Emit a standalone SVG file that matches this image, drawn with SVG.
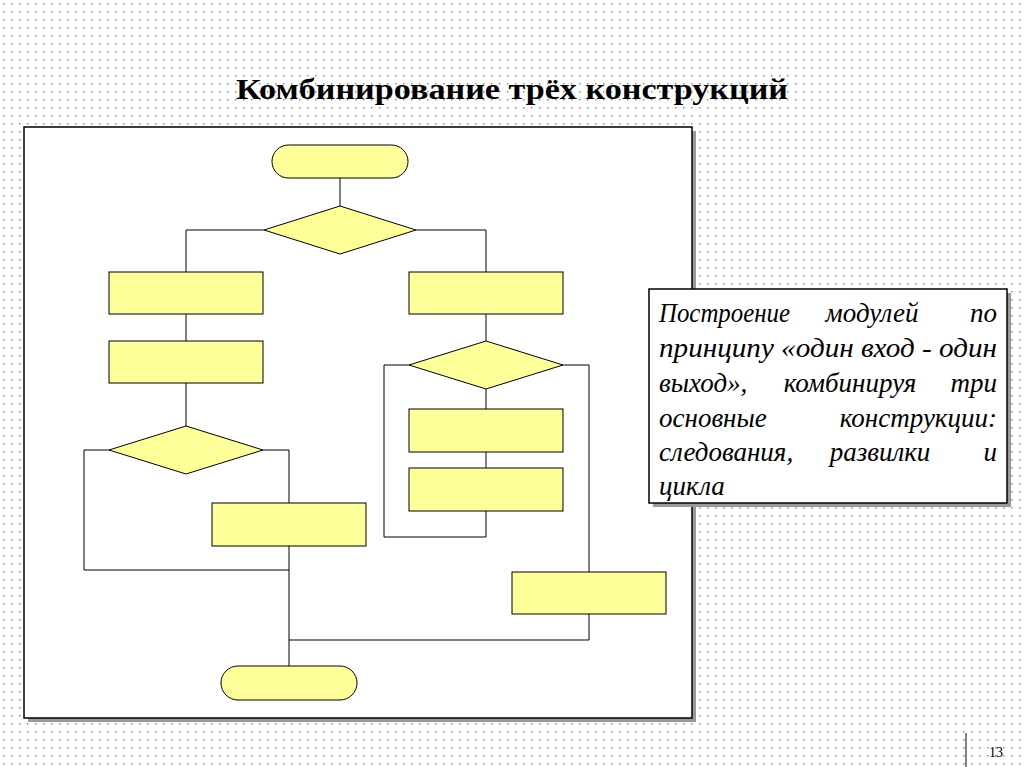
<svg xmlns="http://www.w3.org/2000/svg" width="1024" height="767" viewBox="0 0 1024 767">
<defs>
<pattern id="dots" width="8" height="8" patternUnits="userSpaceOnUse"><rect x="3" y="3" width="1.5" height="1.5" fill="#8a8ab8"/></pattern>
<style>
.n{fill:#ffff99;stroke:#000;stroke-width:1}
.c{fill:none;stroke:#000;stroke-width:1}
.t{font-family:"Liberation Serif","Times New Roman","DejaVu Serif",serif;font-style:italic;font-size:27px;fill:#000}
.h{font-family:"Liberation Serif","Times New Roman","DejaVu Serif",serif;font-weight:bold;font-size:30px;fill:#000}
</style>
</defs>
<rect width="1024" height="767" fill="#fff"/>
<rect width="1024" height="767" fill="url(#dots)"/>
<text class="h" x="236" y="99" textLength="552" lengthAdjust="spacingAndGlyphs">Комбинирование трёх конструкций</text>
<rect x="28" y="131" width="668" height="591" fill="#999"/>
<rect x="24" y="127" width="668" height="591" fill="#fff" stroke="#000" stroke-width="1.5"/>
<g id="connectors">
<path class="c" d="M340 178V206M264 230H186V272M416 230H486V272M186 314V341M186 383V426M109 450H84V570H289M263 450H289V503M289 546V666M486 314V341M486 389V409M486 452V468M486 511V537H384V365H409M563 365H589V572M589 614V640H289"/>
</g>
<g id="start"><rect class="n" x="272" y="145" width="136" height="33" rx="16.5"/></g>
<g id="d1"><polygon class="n" points="340,206 416,230 340,254 264,230"/></g>
<g id="r1"><rect class="n" x="109" y="272" width="154" height="42"/></g>
<g id="r2"><rect class="n" x="109" y="341" width="154" height="42"/></g>
<g id="d2"><polygon class="n" points="186,426 263,450 186,474 109,450"/></g>
<g id="r3"><rect class="n" x="212" y="503" width="154" height="43"/></g>
<g id="r4"><rect class="n" x="409" y="272" width="154" height="42"/></g>
<g id="d3"><polygon class="n" points="486,341 563,365 486,389 409,365"/></g>
<g id="r5"><rect class="n" x="409" y="409" width="154" height="43"/></g>
<g id="r6"><rect class="n" x="409" y="468" width="154" height="43"/></g>
<g id="r7"><rect class="n" x="512" y="572" width="154" height="42"/></g>
<g id="end"><rect class="n" x="221" y="666" width="136" height="34" rx="17"/></g>
<g id="note">
<rect x="653" y="293" width="358" height="214" fill="#999"/>
<rect x="649" y="289" width="358" height="214" fill="#fff" stroke="#000" stroke-width="1.5"/>
<text class="t" x="659" y="322" textLength="131" lengthAdjust="spacingAndGlyphs">Построение</text>
<text class="t" x="872" y="322" text-anchor="middle">модулей</text>
<text class="t" x="997" y="322" text-anchor="end">по</text>
<text class="t" x="659" y="357" textLength="338" lengthAdjust="spacingAndGlyphs">принципу «один вход - один</text>
<text class="t" x="659" y="392">выход»,</text>
<text class="t" x="850" y="392" text-anchor="middle">комбинируя</text>
<text class="t" x="997" y="392" text-anchor="end">три</text>
<text class="t" x="659" y="427">основные</text>
<text class="t" x="997" y="427" text-anchor="end">конструкции:</text>
<text class="t" x="659" y="461">следования,</text>
<text class="t" x="880" y="461" text-anchor="middle">развилки</text>
<text class="t" x="997" y="461" text-anchor="end">и</text>
<text class="t" x="659" y="495">цикла</text>
</g>
<line x1="966" y1="733" x2="966" y2="767" stroke="#000" stroke-width="1"/>
<text x="996" y="757" text-anchor="middle" font-family="Liberation Serif,serif" font-size="14">13</text>
</svg>
